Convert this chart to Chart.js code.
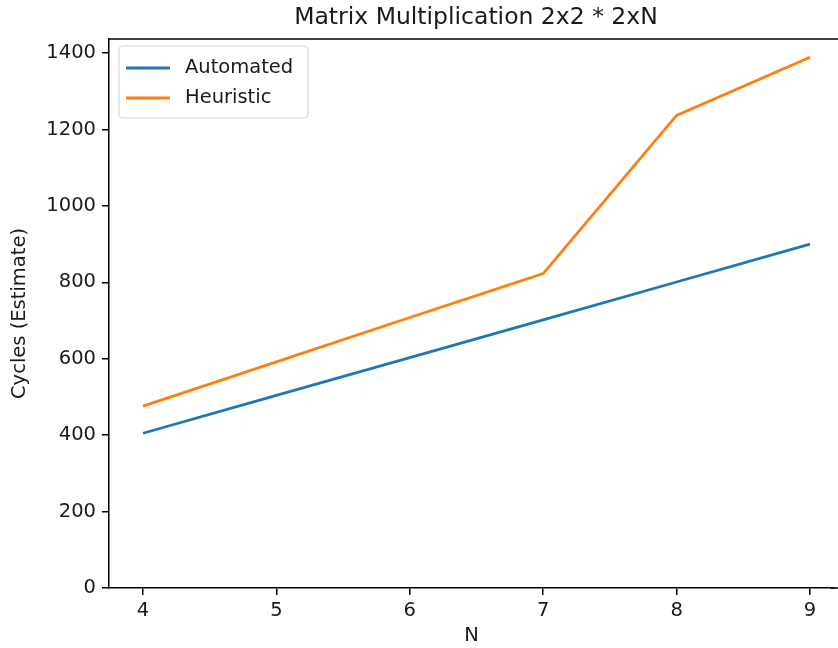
<!DOCTYPE html>
<html>
<head>
<meta charset="utf-8">
<script src="https://cdn.jsdelivr.net/npm/chart.js@4"></script>
<style>
  html, body { margin: 0; padding: 0; background: #fff; overflow: hidden; }
  #wrap { width: 838px; height: 648px; }
</style>
</head>
<body>
<div id="wrap"><canvas id="c" width="838" height="648"></canvas></div>
<script>
// ---- data ----
const nValues = [4, 5, 6, 7, 8, 9];
const automated = [405, 504, 603, 702, 801, 900];
const heuristic = [476, 592, 708, 823, 1237, 1389];
const seriesLabels = ['Automated', 'Heuristic'];
const xTicks = [4, 5, 6, 7, 8, 9];
const yTicks = [0, 200, 400, 600, 800, 1000, 1200, 1400];
const titleText = 'Matrix Multiplication 2x2 * 2xN';
const xTitle = 'N';
const yTitle = 'Cycles (Estimate)';

const FONT = "'DejaVu Sans', sans-serif";
const BLUE = '#1f77b4';
const ORANGE = '#ff7f0e';
const INK = '#1a1a1a';

const framePlugin = {
  id: 'frame',
  afterDraw(chart) {
    const { ctx, chartArea: a } = chart;
    ctx.save();
    // the axes box runs past the picture's right edge: no right spine visible
    ctx.fillStyle = '#fff';
    ctx.fillRect(a.right - 3, a.top + 1, chart.width - a.right + 3, a.bottom - a.top - 2);
    ctx.fillRect(a.right - 3, a.bottom + 1, chart.width - a.right + 3, 12);
    // top and bottom spines run on to the picture's right edge
    ctx.beginPath();
    ctx.strokeStyle = '#000';
    ctx.lineWidth = 1.5;
    ctx.moveTo(a.left - 0.75, a.top);
    ctx.lineTo(chart.width, a.top);
    ctx.moveTo(a.right - 4, a.bottom);
    ctx.lineTo(chart.width, a.bottom);
    ctx.stroke();
    // title centered over the full axes box (which extends to x≈843)
    ctx.fillStyle = INK;
    ctx.font = '23.5px ' + FONT;
    ctx.textAlign = 'center';
    ctx.textBaseline = 'middle';
    ctx.fillText(titleText, (a.left + 843) / 2, 18);
    // legend box
    const bx = a.left + 10, by = a.top + 7, bw = 189, bh = 72, r = 4;
    ctx.beginPath();
    ctx.moveTo(bx + r, by);
    ctx.lineTo(bx + bw - r, by);
    ctx.arcTo(bx + bw, by, bx + bw, by + r, r);
    ctx.lineTo(bx + bw, by + bh - r);
    ctx.arcTo(bx + bw, by + bh, bx + bw - r, by + bh, r);
    ctx.lineTo(bx + r, by + bh);
    ctx.arcTo(bx, by + bh, bx, by + bh - r, r);
    ctx.lineTo(bx, by + r);
    ctx.arcTo(bx, by, bx + r, by, r);
    ctx.closePath();
    ctx.fillStyle = 'rgba(255,255,255,0.8)';
    ctx.fill();
    ctx.strokeStyle = '#d6d6d6';
    ctx.lineWidth = 1.2;
    ctx.stroke();
    ctx.font = '19.5px ' + FONT;
    ctx.textAlign = 'left';
    ctx.textBaseline = 'middle';
    chart.data.datasets.forEach((ds, i) => {
      const yy = by + 22 + i * 30;
      ctx.beginPath();
      ctx.strokeStyle = ds.borderColor;
      ctx.lineWidth = 2.8;
      ctx.moveTo(bx + 7, yy);
      ctx.lineTo(bx + 51, yy);
      ctx.stroke();
      ctx.fillStyle = INK;
      ctx.fillText(ds.label, bx + 66, yy);
    });
    ctx.restore();
  }
};

const toPts = arr => nValues.map((n, i) => ({ x: n, y: arr[i] }));

new Chart(document.getElementById('c'), {
  type: 'line',
  data: {
    datasets: [
      { label: seriesLabels[0], data: toPts(automated), borderColor: BLUE, backgroundColor: BLUE, borderWidth: 2.8, pointRadius: 0, tension: 0, fill: false },
      { label: seriesLabels[1], data: toPts(heuristic), borderColor: ORANGE, backgroundColor: ORANGE, borderWidth: 2.8, pointRadius: 0, tension: 0, fill: false }
    ]
  },
  options: {
    responsive: false,
    animation: false,
    events: [],
    layout: { padding: { top: 39, right: 4, bottom: 0, left: 0 } },
    plugins: { legend: { display: false }, title: { display: false }, tooltip: { enabled: false } },
    scales: {
      x: {
        type: 'linear', min: 3.745, max: 9.18,
        afterBuildTicks: s => { s.ticks = xTicks.map(v => ({ value: v })); },
        afterFit: s => { s.height = 60; },
        grid: { drawOnChartArea: false, drawTicks: true, tickLength: 7, color: '#000', lineWidth: 1.5 },
        border: { display: true, color: '#000', width: 1.5 },
        ticks: { color: INK, font: { family: FONT, size: 19.5 }, padding: 4, maxRotation: 0, callback: v => String(v) },
        title: { display: true, text: xTitle, color: INK, font: { family: FONT, size: 19.5 }, padding: { top: 0, bottom: 0 } }
      },
      y: {
        type: 'linear', min: 0, max: 1437,
        afterBuildTicks: s => { s.ticks = yTicks.map(v => ({ value: v })); },
        afterFit: s => { s.width = 109; },
        grid: { drawOnChartArea: false, drawTicks: true, tickLength: 7, color: '#000', lineWidth: 1.5 },
        border: { display: true, color: '#000', width: 1.5 },
        ticks: { color: INK, font: { family: FONT, size: 19.5 }, padding: 6, callback: v => String(v) },
        title: { display: true, text: yTitle, color: INK, font: { family: FONT, size: 19.5 }, padding: { top: 8, bottom: 0 } }
      }
    }
  },
  plugins: [framePlugin]
});
</script>
</body>
</html>
